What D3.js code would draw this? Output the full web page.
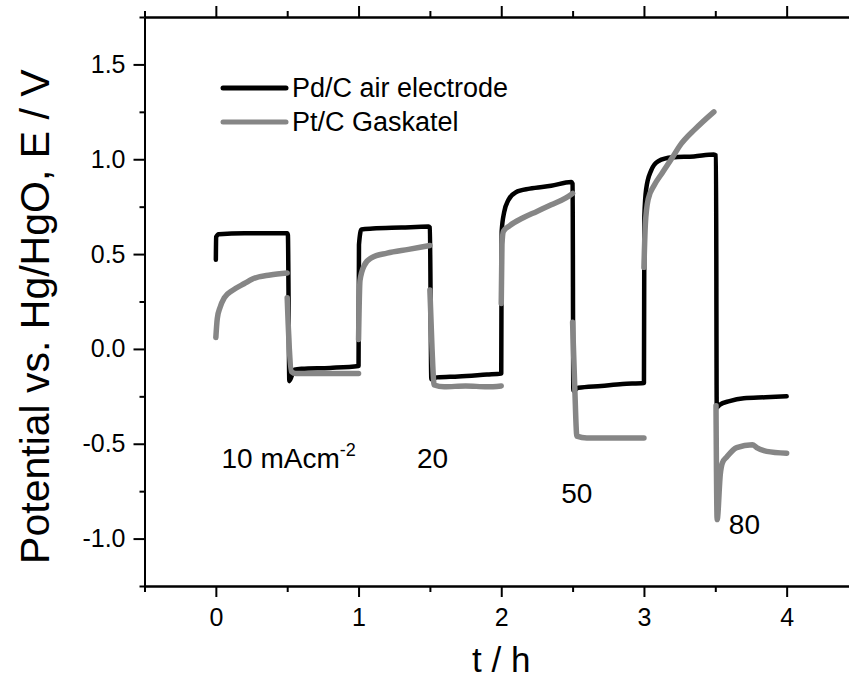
<!DOCTYPE html>
<html>
<head>
<meta charset="utf-8">
<script src="https://cdn.jsdelivr.net/npm/d3@7"></script>
<style>
  body { margin: 0; background: #fff; }
  svg { font-family: Arial, "Liberation Sans", sans-serif; }
  .axis path, .axis line { stroke: #000; stroke-width: 2px; }
  .axis text { font-size: 25px; fill: #000; }
</style>
</head>
<body>
<div class="chart"></div>
<script>
// Pd/C air electrode, [t / h, E / V]
var pdC = [
  [0, 0.47], [0.002, 0.59], [0.02, 0.605], [0.2, 0.61], [0.5, 0.61], [0.505, 0.60],
  [0.515, -0.17], [0.55, -0.11], [0.6, -0.105], [0.8, -0.10], [1.0, -0.09],
  [1.003, 0.55], [1.02, 0.63], [1.1, 0.635], [1.3, 0.64], [1.49, 0.645], [1.5, 0.64],
  [1.51, -0.16], [1.55, -0.15], [1.7, -0.145], [1.9, -0.135], [2.0, -0.13],
  [2.003, 0.62], [2.02, 0.72], [2.05, 0.785], [2.1, 0.825], [2.2, 0.845], [2.35, 0.86], [2.49, 0.88], [2.5, 0.87],
  [2.505, -0.22], [2.54, -0.205], [2.7, -0.195], [2.85, -0.185], [3.0, -0.18],
  [3.003, 0.70], [3.015, 0.84], [3.05, 0.94], [3.1, 0.99], [3.2, 1.01], [3.35, 1.015], [3.49, 1.025], [3.505, 1.02],
  [3.51, -0.31], [3.53, -0.295], [3.6, -0.275], [3.7, -0.26], [3.85, -0.255], [4.0, -0.25]
];

// Pt/C Gaskatel, recorded in pieces (null = gap)
var ptC = [
  [0, 0.06], [0.01, 0.16], [0.03, 0.22], [0.06, 0.27], [0.12, 0.31], [0.2, 0.345], [0.26, 0.37], [0.38, 0.39], [0.5, 0.40],
  null,
  [0.5, 0.27], [0.515, 0.0], [0.53, -0.12], [0.56, -0.13], [0.8, -0.13], [1.0, -0.13],
  null,
  [1.0, 0.05], [1.01, 0.36], [1.04, 0.44], [1.09, 0.48], [1.2, 0.505], [1.35, 0.525], [1.5, 0.545],
  null,
  [1.5, 0.31], [1.515, 0.0], [1.53, -0.19], [1.6, -0.20], [1.75, -0.195], [1.9, -0.2], [2.0, -0.195],
  null,
  [2.0, 0.24], [2.005, 0.55], [2.015, 0.62], [2.06, 0.65], [2.15, 0.69], [2.25, 0.725], [2.35, 0.76], [2.45, 0.795], [2.5, 0.82],
  null,
  [2.5, 0.14], [2.515, -0.2], [2.53, -0.46], [2.6, -0.47], [2.8, -0.47], [3.0, -0.47],
  null,
  [3.0, 0.43], [3.01, 0.66], [3.03, 0.79], [3.07, 0.86], [3.13, 0.93], [3.2, 1.01], [3.25, 1.07], [3.36, 1.16], [3.49, 1.25],
  null,
  [3.505, -0.30], [3.513, -0.90], [3.535, -0.66], [3.55, -0.60], [3.58, -0.57], [3.65, -0.52], [3.76, -0.505], [3.79, -0.52], [3.86, -0.54], [4.0, -0.55]
];

var xTicks = [0, 1, 2, 3, 4];
var xMinor = [-0.5, 0.5, 1.5, 2.5, 3.5, 4.5];
var yTicks = [-1.0, -0.5, 0.0, 0.5, 1.0, 1.5];
var yMinor = [-1.25, -0.75, -0.25, 0.25, 0.75, 1.25, 1.75];

var notes = [
  {t: 0.04, v: -0.63, label: "10 mAcm", sup: "-2"},
  {t: 1.41, v: -0.63, label: "20"},
  {t: 2.42, v: -0.81, label: "50"},
  {t: 3.595, v: -0.975, label: "80"}
];

var legendItems = [
  {name: "Pd/C air electrode", color: "#000"},
  {name: "Pt/C Gaskatel", color: "#868686"}
];

var width = 849, height = 687;
var svg = d3.select(".chart").append("svg")
  .attr("width", width).attr("height", height);

var x = d3.scaleLinear().domain([-0.5, 4.5]).range([144.5, 858]);
var y = d3.scaleLinear().domain([-1.25, 1.75]).range([586, 17]);

var line = d3.line()
  .defined(d => d !== null)
  .curve(d3.curveMonotoneX)
  .x(d => x(d[0])).y(d => y(d[1]));

// data lines
svg.append("path").datum(pdC)
  .attr("d", line)
  .attr("fill", "none").attr("stroke", legendItems[0].color)
  .attr("stroke-width", 4.5).attr("stroke-linejoin", "round").attr("stroke-linecap", "round");

svg.append("path").datum(ptC)
  .attr("d", line)
  .attr("fill", "none").attr("stroke", legendItems[1].color)
  .attr("stroke-width", 5.5).attr("stroke-linejoin", "round").attr("stroke-linecap", "round");

// axes
function addAxis(axis, tr) {
  return svg.append("g").attr("class", "axis").attr("transform", tr).call(axis);
}
var fmtY = d => d3.format(".1f")(d).replace("\u2212", "-");

addAxis(d3.axisBottom(x).tickValues(xTicks).tickFormat(d3.format("d")).tickSize(11).tickSizeOuter(0).tickPadding(11), `translate(0,${y(-1.25)})`);
addAxis(d3.axisBottom(x).tickValues(xMinor).tickFormat("").tickSize(6).tickSizeOuter(0), `translate(0,${y(-1.25)})`);
addAxis(d3.axisBottom(x).tickValues(xTicks).tickFormat("").tickSize(-11).tickSizeOuter(0), `translate(0,${y(1.75)})`);
addAxis(d3.axisBottom(x).tickValues(xMinor).tickFormat("").tickSize(-6).tickSizeOuter(0), `translate(0,${y(1.75)})`);

addAxis(d3.axisLeft(y).tickValues(yTicks).tickFormat(fmtY).tickSize(11).tickSizeOuter(0).tickPadding(8), `translate(${x(-0.5)},0)`);
addAxis(d3.axisLeft(y).tickValues(yMinor).tickFormat("").tickSize(5).tickSizeOuter(0), `translate(${x(-0.5)},0)`);
addAxis(d3.axisLeft(y).tickValues(yTicks).tickFormat("").tickSize(-11).tickSizeOuter(0), `translate(${x(4.5)},0)`);
addAxis(d3.axisLeft(y).tickValues(yMinor).tickFormat("").tickSize(-5).tickSizeOuter(0), `translate(${x(4.5)},0)`);

// axis titles
svg.append("text")
  .attr("x", x(2)).attr("y", 672)
  .attr("text-anchor", "middle").attr("font-size", 35)
  .text("t / h");

svg.append("text")
  .attr("transform", `translate(49,${y(0.17)}) rotate(-90)`)
  .attr("text-anchor", "middle").attr("font-size", 41)
  .text("Potential vs. Hg/HgO, E / V");

// current density labels
notes.forEach(function(n) {
  var t = svg.append("text")
    .attr("x", x(n.t)).attr("y", y(n.v))
    .attr("font-size", 28)
    .text(n.label);
  if (n.sup) {
    t.append("tspan").attr("dy", -12).attr("font-size", 18).text(n.sup);
  }
});

// legend
var lg = svg.append("g").attr("transform", "translate(223,88)");
legendItems.forEach(function(d, i) {
  lg.append("line")
    .attr("x1", 0).attr("x2", 63).attr("y1", i * 34).attr("y2", i * 34)
    .attr("stroke", d.color).attr("stroke-width", 5).attr("stroke-linecap", "round");
  lg.append("text")
    .attr("x", 69).attr("y", i * 34 + 9)
    .attr("font-size", 27)
    .text(d.name);
});
</script>
</body>
</html>
